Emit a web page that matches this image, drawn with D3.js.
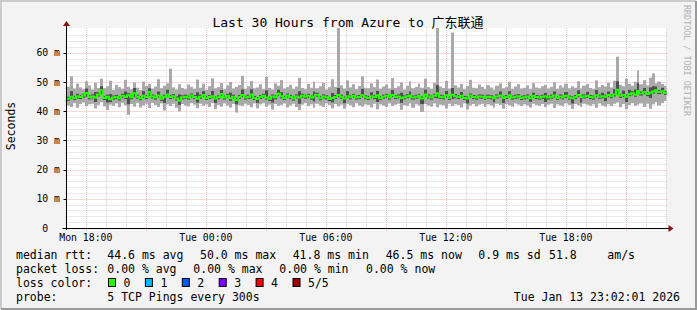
<!DOCTYPE html>
<html>
<head>
<meta charset="utf-8">
<script src="https://cdn.jsdelivr.net/npm/d3@7"></script>
<style>
  body { margin: 0; background: #f3f3f3; }
  svg text { font-family: "DejaVu Sans Mono", "Noto Sans CJK SC", monospace; white-space: pre; }
</style>
</head>
<body>
<svg id="chart" width="697" height="310"></svg>
<script>
// RRD window: 30 hours ending Tue Jan 13 23:02:01 2026, 200 columns of 9 minutes
var tEnd = new Date(2026, 0, 13, 23, 2, 1);
var tStart = new Date(tEnd.getTime() - 30 * 3600 * 1000);
var colMinutes = 9;

// median rtt (ms) per column
var med = [
  44.3,45.0,44.6,45.2,44.9,45.4,46.3,44.8,45.1,44.7,45.8,47.2,44.6,45.0,44.1,44.7,44.9,44.4,45.3,44.9,
  45.5,44.8,46.2,45.0,44.5,45.3,44.9,46.6,45.1,44.7,45.4,44.3,45.0,45.8,44.9,45.2,44.4,43.6,44.8,45.0,
  44.7,45.4,44.9,44.3,45.0,45.6,44.6,44.9,45.2,44.4,44.8,45.9,44.7,45.3,44.5,45.0,43.9,44.9,45.6,44.7,
  45.0,45.8,44.6,44.2,44.9,45.3,44.7,44.3,45.1,44.8,46.0,45.2,44.6,45.4,44.9,44.4,45.1,44.7,45.3,45.0,
  45.3,44.7,45.0,45.7,44.5,45.1,44.8,44.2,44.6,44.9,45.6,45.0,44.4,45.2,44.8,45.3,44.7,44.9,45.5,44.8,
  44.6,45.2,44.9,45.5,44.5,45.0,45.3,44.7,45.6,44.9,45.1,44.6,44.8,45.2,45.4,44.7,45.0,45.3,44.4,45.8,
  45.1,44.7,45.3,46.2,45.0,44.8,45.5,44.6,45.7,45.2,44.9,45.3,44.6,44.4,45.4,44.9,44.7,45.1,45.0,44.6,
  45.0,44.8,44.5,45.1,45.4,44.6,44.9,45.5,44.7,45.0,45.2,44.6,44.8,45.1,44.5,45.3,44.9,44.7,45.0,45.2,
  44.7,45.0,45.4,44.6,45.1,44.8,45.3,44.7,44.5,44.9,45.6,44.8,45.1,45.3,44.9,44.7,45.5,45.0,45.2,45.0,
  45.6,45.2,45.8,47.4,45.3,45.6,45.0,45.9,46.2,45.7,47.0,46.1,46.6,45.9,46.4,46.8,47.2,46.6,46.9,46.3
];
// lowest ping (ms)
var pMin = [
  42.0,41.5,42.8,41.2,42.5,43.0,41.8,42.4,42.6,41.0,42.2,43.1,41.7,40.5,42.3,41.9,42.7,41.4,42.9,42.1,
  38.8,42.5,41.6,42.8,41.3,42.0,42.6,41.1,42.9,42.2,41.5,42.7,40.3,42.4,41.8,42.6,41.2,40.0,42.5,42.0,
  41.7,42.8,42.3,41.1,42.6,41.9,42.4,41.5,42.8,40.8,42.2,41.6,42.7,42.0,41.3,42.5,39.6,42.1,41.8,42.6,
  42.2,41.4,42.7,41.0,42.4,42.8,41.6,42.3,40.6,42.5,41.9,42.2,42.7,41.3,42.0,42.6,41.5,40.4,42.3,42.8,
  41.8,42.4,41.2,42.6,42.0,41.5,42.7,42.2,41.0,42.5,41.7,42.3,40.9,42.6,42.1,41.4,42.8,42.0,41.6,42.4,
  42.2,41.3,42.6,40.7,42.4,42.0,41.5,42.7,41.8,42.3,42.6,40.5,42.1,41.9,42.7,41.2,42.4,42.0,39.8,42.5,
  42.0,41.6,42.7,41.4,42.3,42.1,41.0,42.6,41.8,42.4,42.2,41.3,42.7,40.6,42.0,42.5,41.7,42.3,42.6,41.5,
  42.4,42.0,41.2,42.6,42.2,40.9,42.5,42.1,41.6,42.7,42.3,41.8,42.4,42.0,41.3,42.6,42.2,41.9,42.5,41.4,
  42.3,42.6,41.1,42.4,42.0,41.7,42.7,42.2,40.8,42.5,42.1,41.5,42.6,42.3,41.9,42.4,41.2,42.7,42.0,41.6,
  42.4,41.8,42.6,43.0,41.4,42.5,40.7,42.2,42.8,41.9,42.3,42.7,41.5,42.6,40.9,42.4,43.1,42.0,42.8,43.5
];
// highest ping (ms)
var pMax = [
  48.5,52.0,47.8,49.5,48.2,47.6,50.3,48.9,47.5,49.8,48.0,51.2,47.9,48.6,50.5,47.4,49.1,48.3,47.7,50.8,
  48.4,47.6,49.9,48.1,47.3,50.2,48.7,49.4,47.8,48.5,51.0,47.9,48.8,49.6,54.6,48.2,47.5,49.3,48.0,47.6,
  49.2,48.4,47.7,50.9,48.1,49.5,47.4,48.6,51.3,47.9,48.3,49.7,47.6,48.9,50.1,47.8,48.4,49.0,52.2,47.7,
  48.6,50.4,47.9,48.2,49.3,47.6,51.8,48.0,47.5,49.6,48.8,50.7,47.8,48.3,49.1,47.7,48.5,51.5,48.0,47.6,
  49.4,48.1,50.2,47.9,48.6,49.8,47.5,48.3,51.0,48.4,68.6,48.9,47.8,50.6,48.2,49.3,47.6,48.7,52.0,48.1,
  47.9,49.6,48.3,50.9,47.7,48.5,49.2,47.8,51.4,48.0,48.6,49.9,47.5,48.8,50.3,47.9,48.4,49.5,48.1,51.2,
  48.3,47.7,49.8,68.6,48.5,48.0,50.4,47.8,67.0,48.9,48.2,49.4,47.6,48.7,50.8,48.1,47.9,49.2,48.4,47.6,
  49.0,48.2,47.5,48.8,49.6,47.9,48.3,50.1,47.7,48.5,49.3,47.8,48.1,48.9,47.6,49.7,48.2,47.9,48.6,49.1,
  47.8,48.4,50.0,47.7,48.9,48.2,49.5,47.9,48.6,48.1,50.3,47.8,48.8,49.4,48.0,47.7,50.6,48.3,49.0,48.5,
  49.8,48.2,50.5,58.7,49.1,48.6,51.2,49.4,48.8,50.1,54.0,49.3,50.7,48.9,51.5,53.0,49.6,50.2,49.4,48.8
];
// inner pings (2nd lowest / 2nd highest, ms)
var pLo = [
  43.6,44.2,43.9,44.4,44.2,44.7,45.0,44.1,44.4,43.2,45.1,45.9,43.9,43.0,43.2,44.0,44.2,43.7,44.6,44.2,
  42.4,44.1,44.8,44.3,43.8,44.6,44.2,45.2,44.4,44.0,44.7,43.6,42.9,45.1,44.2,44.5,43.7,42.2,44.1,44.3,
  44.0,44.7,44.2,43.0,44.3,44.9,43.9,44.2,44.5,42.9,44.1,45.2,44.0,44.6,43.6,44.3,42.4,44.2,44.9,44.0,
  44.3,44.4,43.9,42.9,44.2,44.6,44.0,43.6,43.0,44.1,45.3,44.5,43.9,44.7,44.2,43.7,44.4,42.6,44.6,44.3,
  44.6,44.0,43.4,45.0,43.8,44.4,44.1,43.5,43.1,44.2,44.9,44.3,42.8,44.5,44.1,44.6,44.0,44.2,44.8,44.1,
  43.9,44.5,44.2,43.2,43.8,44.3,44.6,44.0,44.9,44.2,44.4,42.9,44.1,44.5,44.7,44.0,44.3,44.6,42.5,45.1,
  44.4,44.0,44.6,44.5,44.3,44.1,44.8,43.9,44.2,44.5,44.2,44.6,43.9,42.7,44.7,44.2,44.0,44.4,44.3,43.9,
  44.3,44.1,43.1,44.4,44.7,42.9,44.2,44.8,44.0,44.3,44.5,43.9,44.1,44.4,43.3,44.6,44.2,44.0,44.3,43.2,
  44.0,44.3,44.7,43.9,44.4,44.1,44.6,44.0,42.7,44.2,44.9,43.0,44.4,44.6,44.2,44.0,44.8,44.3,44.5,43.5,
  44.9,44.5,45.1,45.8,44.6,44.9,43.2,45.2,45.5,45.0,46.3,45.4,45.9,45.2,44.6,46.1,46.5,45.9,46.2,45.6
];
var pHi = [
  45.0,46.9,45.3,46.0,45.6,46.0,47.8,45.5,45.8,46.6,46.5,48.6,45.3,45.7,45.9,45.4,45.6,45.1,46.0,46.8,
  46.2,45.5,48.0,45.7,45.2,46.9,45.6,47.9,45.8,45.4,46.8,45.0,45.7,47.4,45.6,45.9,45.1,45.8,45.5,45.7,
  45.4,46.1,45.6,46.5,45.7,46.9,45.3,45.6,47.0,45.1,45.5,47.3,45.4,46.0,46.4,45.7,44.6,45.6,47.5,45.4,
  45.7,47.5,45.3,44.9,45.6,46.0,47.2,45.0,45.8,45.5,47.4,46.6,45.3,46.1,45.6,45.1,45.8,46.9,46.0,45.7,
  46.0,45.4,46.8,46.4,45.2,45.8,45.5,44.9,46.3,45.6,48.0,45.7,45.1,46.9,45.5,46.0,45.4,45.6,47.7,45.5,
  45.3,46.5,45.6,47.0,45.2,45.7,46.0,45.4,47.3,45.6,45.8,46.4,45.5,45.9,46.8,45.4,45.7,46.0,45.1,47.4,
  45.8,45.4,46.0,49.0,45.7,45.5,47.0,45.3,48.0,45.9,45.6,46.6,45.3,45.1,46.1,45.6,45.4,45.8,45.7,45.3,
  45.7,45.5,45.2,45.8,46.8,45.3,45.6,46.9,45.4,45.7,45.9,45.3,45.5,45.8,45.2,46.4,45.6,45.4,45.7,46.3,
  45.4,45.7,46.8,45.3,45.8,45.5,46.6,45.4,45.2,45.6,47.2,45.5,45.8,46.7,45.6,45.4,47.3,45.7,46.4,45.7,
  46.8,45.9,47.6,50.3,46.0,47.1,45.7,47.4,46.9,47.5,49.8,46.8,48.0,46.6,48.2,48.6,48.5,47.3,48.1,47.0
];

var yTicks = [0, 10, 20, 30, 40, 50, 60];
var yTickLabels = ["0  ", "10 m", "20 m", "30 m", "40 m", "50 m", "60 m"];

var titleText = "Last 30 Hours from Azure to 广东联通";
var rttRow = ["median rtt:", "44.6 ms avg", "50.0 ms max", "41.8 ms min", "46.5 ms now", "0.9 ms sd", "51.8", "am/s"];
var lossRow = ["packet loss:", "0.00 % avg", "0.00 % max", "0.00 % min", "0.00 % now"];
var lossLabels = ["0", "1", "2", "3", "4", "5/5"];
var lossColors = ["#26ff00", "#00b8ff", "#0059ff", "#7e00ff", "#ff0000", "#a10000"];
var probeText = "5 TCP Pings every 300s";
var stampText = "Tue Jan 13 23:02:01 2026";

var W = 697, H = 310;
var pLeft = 66.5, pRight = 666.5, pTop = 28, pBottom = 228;

var svg = d3.select("#chart");

// frame
svg.append("rect").attr("width", W).attr("height", H).attr("fill", "#f3f3f3");
svg.append("path").attr("d", "M1,309V1H696").attr("fill", "none").attr("stroke", "#cbcbcb").attr("stroke-width", 2);
svg.append("path").attr("d", "M1,309H696V1").attr("fill", "none").attr("stroke", "#999999").attr("stroke-width", 2);

var x = d3.scaleTime().domain([tStart, tEnd]).range([pLeft, pRight]);
var y = d3.scaleLinear().domain([0, 68.57]).range([pBottom, pTop]);

svg.append("rect").attr("x", pLeft).attr("y", pTop).attr("width", pRight - pLeft).attr("height", pBottom - pTop).attr("fill", "#ffffff");

// grid
var g = svg.append("g");
var minorH = d3.range(2, 68, 2).filter(function(v) { return v % 10 != 0; });
g.selectAll(".hmin").data(minorH).enter().append("line")
  .attr("x1", pLeft - 2).attr("x2", pRight + 2)
  .attr("y1", function(d) { return Math.round(y(d)) + 0.5; }).attr("y2", function(d) { return Math.round(y(d)) + 0.5; })
  .attr("stroke", "#d6d6d6").attr("stroke-dasharray", "1,1");
var hours = x.ticks(d3.timeHour.every(1)).filter(function(d) { return d.getHours() % 3 != 0; });
g.selectAll(".vmin").data(hours).enter().append("line")
  .attr("x1", function(d) { return Math.round(x(d)) + 0.5; }).attr("x2", function(d) { return Math.round(x(d)) + 0.5; })
  .attr("y1", pTop).attr("y2", pBottom + 2)
  .attr("stroke", "#d6d6d6").attr("stroke-dasharray", "1,1");
g.selectAll(".hmaj").data(yTicks.slice(1)).enter().append("line")
  .attr("x1", pLeft - 2).attr("x2", pRight + 2)
  .attr("y1", function(d) { return Math.round(y(d)) + 0.5; }).attr("y2", function(d) { return Math.round(y(d)) + 0.5; })
  .attr("stroke", "#f3b0b0").attr("stroke-dasharray", "1,1");
var major = x.ticks(d3.timeHour.every(3));
g.selectAll(".vmaj").data(major).enter().append("line")
  .attr("x1", function(d) { return Math.round(x(d)) + 0.5; }).attr("x2", function(d) { return Math.round(x(d)) + 0.5; })
  .attr("y1", pTop).attr("y2", pBottom + 3)
  .attr("stroke", "#f3b0b0").attr("stroke-dasharray", "1,1");

// smoke
var cols = med.map(function(m, i) {
  return { t0: d3.timeMinute.offset(tStart, i * colMinutes), t1: d3.timeMinute.offset(tStart, (i + 1) * colMinutes),
           med: m, lo: pMin[i], hi: pMax[i], ilo: pLo[i], ihi: pHi[i] };
});
svg.append("clipPath").attr("id", "plot").append("rect")
  .attr("x", pLeft).attr("y", pTop).attr("width", pRight - pLeft).attr("height", pBottom - pTop);
var data = svg.append("g").attr("clip-path", "url(#plot)");
data.selectAll(".smoke").data(cols).enter().append("rect")
  .attr("x", function(d) { return Math.round(x(d.t0)); })
  .attr("width", function(d) { return Math.round(x(d.t1)) - Math.round(x(d.t0)); })
  .attr("y", function(d) { return y(d.hi); })
  .attr("height", function(d) { return y(d.lo) - y(d.hi); })
  .attr("fill", "#a9a9a9");
data.selectAll(".inner").data(cols).enter().append("rect")
  .attr("x", function(d) { return Math.round(x(d.t0)); })
  .attr("width", function(d) { return Math.round(x(d.t1)) - Math.round(x(d.t0)); })
  .attr("y", function(d) { return y(d.ihi); })
  .attr("height", function(d) { return y(d.ilo) - y(d.ihi); })
  .attr("fill", "#4f4f4f");
var medLine = d3.line().curve(d3.curveStepAfter)
  .x(function(d) { return Math.round(x(d.t0)); })
  .y(function(d) { return y(d.med); });
data.append("path").datum(cols.concat([{ t0: tEnd, med: med[med.length - 1] }]))
  .attr("d", medLine).attr("fill", "none").attr("stroke", lossColors[0]).attr("stroke-width", 2);

// axes
svg.append("line").attr("x1", pLeft).attr("x2", pLeft).attr("y1", pBottom + 2).attr("y2", pTop - 3).attr("stroke", "#000");
svg.append("line").attr("x1", pLeft - 4).attr("x2", pRight + 4).attr("y1", pBottom + 0.5).attr("y2", pBottom + 0.5).attr("stroke", "#000");
svg.append("path").attr("d", "M" + (pLeft - 3.5) + "," + (pTop - 2) + "L" + pLeft + "," + (pTop - 7) + "L" + (pLeft + 3.5) + "," + (pTop - 2) + "Z").attr("fill", "#8b1010");
svg.append("path").attr("d", "M" + (pRight + 2) + "," + (pBottom - 3) + "L" + (pRight + 7) + "," + (pBottom + 0.5) + "L" + (pRight + 2) + "," + (pBottom + 4) + "Z").attr("fill", "#8b1010");
yTicks.forEach(function(v) {
  svg.append("line").attr("x1", pLeft - 3).attr("x2", pLeft).attr("y1", Math.round(y(v)) + 0.5).attr("y2", Math.round(y(v)) + 0.5).attr("stroke", "#000");
});

svg.selectAll(".ylab").data(yTicks).enter().append("text")
  .attr("x", 60).attr("y", function(d) { return y(d) + 3.5; })
  .attr("text-anchor", "end").attr("font-size", "9.8px").attr("fill", "#000")
  .text(function(d, i) { return yTickLabels[i]; });

var fmt = d3.timeFormat("%a %H:%M");
svg.selectAll(".xlab").data(x.ticks(d3.timeHour.every(6))).enter().append("text")
  .attr("x", function(d) { return x(d); }).attr("y", 241)
  .attr("text-anchor", "middle").attr("font-size", "9.8px").attr("fill", "#000")
  .text(function(d) { return fmt(d); });

// title, axis title, watermark
svg.append("text").attr("x", 348).attr("y", 26.5).attr("text-anchor", "middle")
  .attr("font-size", "13px").attr("fill", "#000").text(titleText);
svg.append("text").attr("transform", "translate(15,126) rotate(-90)").attr("text-anchor", "middle")
  .attr("font-size", "11.5px").attr("fill", "#000").text("Seconds");
svg.append("text").attr("transform", "translate(684,5) rotate(90)")
  .attr("font-size", "8.4px").attr("fill", "#b0b0b0").text("RRDTOOL / TOBI OETIKER");

// legend
var lf = "11.5px";
var rttX = [16, 107.3, 200, 292.7, 385.7, 478.3, 549, 607.3];
rttRow.forEach(function(s, i) {
  svg.append("text").attr("x", rttX[i]).attr("y", 259).attr("font-size", lf).text(s);
});
var lossX = [16, 107.3, 193.3, 279.3, 366];
lossRow.forEach(function(s, i) {
  svg.append("text").attr("x", lossX[i]).attr("y", 273).attr("font-size", lf).text(s);
});
svg.append("text").attr("x", 16).attr("y", 287).attr("font-size", lf).text("loss color:");
var lc = svg.selectAll(".lc").data(lossLabels).enter().append("g")
  .attr("transform", function(d, i) { return "translate(" + (108.5 + i * 36.9) + ",0)"; });
lc.append("rect").attr("x", 0).attr("y", 278.5).attr("width", 7).attr("height", 8)
  .attr("fill", function(d, i) { return lossColors[i]; }).attr("stroke", "#000");
lc.append("text").attr("x", 15).attr("y", 287).attr("font-size", lf).text(function(d) { return d; });
svg.append("text").attr("x", 16).attr("y", 301).attr("font-size", lf).text("probe:");
svg.append("text").attr("x", 107.3).attr("y", 301).attr("font-size", lf).text(probeText);
svg.append("text").attr("x", 680).attr("y", 301).attr("text-anchor", "end").attr("font-size", lf).text(stampText);
</script>
</body>
</html>
